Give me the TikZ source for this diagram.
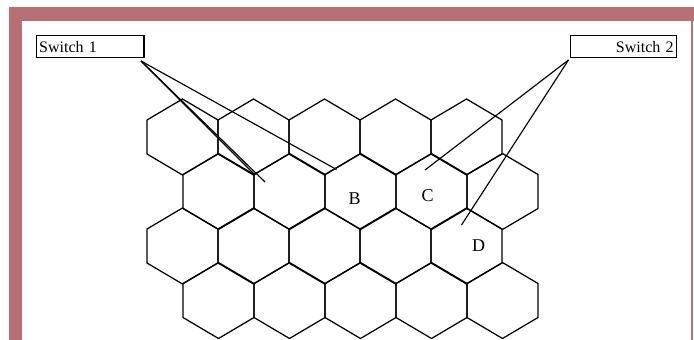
\documentclass[tikz,border=0pt]{standalone}
\usepackage{fontspec}
\setmainfont{Liberation Serif}
\usetikzlibrary{positioning}
\definecolor{framecol}{RGB}{183,112,116}

\begin{document}
\begin{tikzpicture}[x=1pt, y=-1pt,
  every node/.style={font=\fontsize{16}{18}\selectfont},
  cell/.style={line width=1.25pt, line join=miter},
  swbox/.style={draw, line width=1.4pt, minimum height=22pt, inner xsep=3pt, inner ysep=0pt},
  wire/.style={line width=1.15pt},
  lbl/.style={font=\fontsize{18}{20}\selectfont, inner sep=0pt}
]
\useasboundingbox (0,0) rectangle (694,340);

% Rahmen
\fill[framecol] (9,7) rectangle (694,21);
\fill[framecol] (9,7) rectangle (22,340);
\fill[framecol] (691,21) rectangle (692.5,340);

% Zellen
\foreach \r/\cy in {0/137, 1/191.5, 2/246, 3/300.5} {
  \foreach \k in {0,...,4} {
    \pgfmathsetmacro{\cx}{182.5 + 71*\k + 36*mod(\r,2)}
    \draw[cell] (\cx,\cy-38) -- (\cx+35.5,\cy-17) -- (\cx+35.5,\cy+17)
      -- (\cx,\cy+38) -- (\cx-35.5,\cy+17) -- (\cx-35.5,\cy-17) -- cycle;
  }
}

% Beschriftung
\node[lbl] (B) at (354.5,199) {B};
\node[lbl] (C) at (427.5,195.5) {C};
\node[lbl] (D) at (478.5,245.5) {D};

% Switches
\node[swbox, anchor=north west, text width=101.6pt, align=left] (sw1) at (35.5,35) {Switch 1};
\node[swbox, anchor=north west, text width=100pt, align=right] (sw2) at (570,35) {Switch 2};
\coordinate (s1) at (141,61);
\coordinate (s2) at (568.5,60);

% Ziele
\coordinate (a1) at (255,175);
\coordinate (a2) at (265,182);
\coordinate (b1) at (336.5,169.5);
\coordinate (c1) at (425,170);
\coordinate (d1) at (461.5,225);

\foreach \t in {a1,a2,b1} \draw[wire] (s1) -- (\t);
\foreach \t in {c1,d1} \draw[wire] (s2) -- (\t);
\end{tikzpicture}
\end{document}
